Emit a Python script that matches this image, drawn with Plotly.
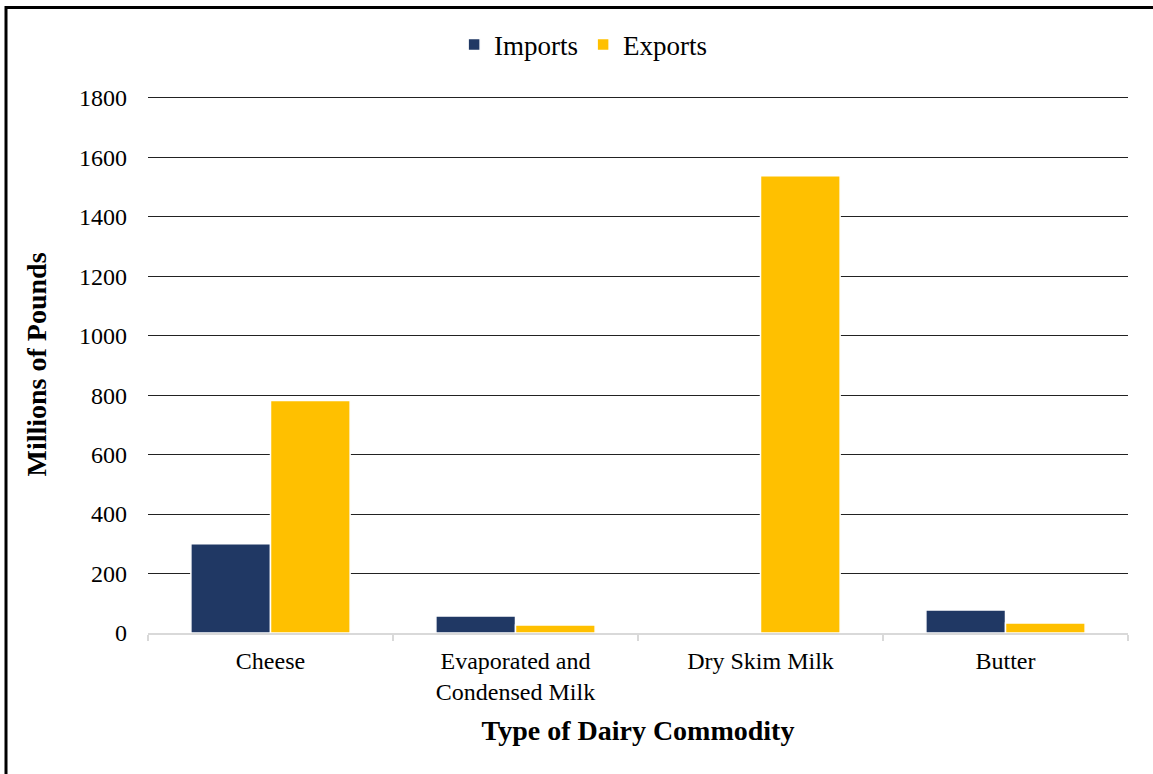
import plotly.graph_objects as go

categories = ["Cheese", "Evaporated and<br>Condensed Milk", "Dry Skim Milk", "Butter"]
imports = [300, 57, 0, 77]
exports = [782, 27, 1538, 34]
y_ticks = [0, 200, 400, 600, 800, 1000, 1200, 1400, 1600, 1800]

FONT = "Liberation Serif"

fig = go.Figure()
fig.add_trace(go.Bar(name="Imports", x=categories, y=imports,
                     marker=dict(color="#203864", line=dict(color="white", width=1.5))))
fig.add_trace(go.Bar(name="Exports", x=categories, y=exports,
                     marker=dict(color="#FFC000", line=dict(color="white", width=1.5))))

fig.update_layout(
    width=1153, height=774,
    margin=dict(l=148, r=25, t=96, b=141, autoexpand=False),
    paper_bgcolor="white", plot_bgcolor="white",
    barmode="group", bargap=0.35, bargroupgap=0.0,
    font=dict(family=FONT, color="black", size=24),
    legend=dict(orientation="h", x=0.444, xanchor="center", y=1.095, yanchor="middle",
                font=dict(family=FONT, size=27, color="black"), itemwidth=30,
                traceorder="normal"),
    showlegend=True,
)
fig.update_xaxes(
    type="category",
    showline=True, linecolor="#d9d9d9", linewidth=2,
    ticks="outside", tickson="boundaries", ticklen=6, tickcolor="#d9d9d9", tickwidth=2,
    ticklabelstandoff=5,
    tickfont=dict(family=FONT, size=24, color="black"),
    title=dict(text="<b>Type of Dairy Commodity</b>", font=dict(family=FONT, size=28, color="black"), standoff=16),
    showgrid=False, automargin=False,
)
fig.update_yaxes(
    range=[0, 1806], tickvals=y_ticks, ticktext=[str(v) for v in y_ticks],
    showgrid=True, gridcolor="#222222", gridwidth=1,
    zeroline=False, showline=False,
    ticks="", ticklabelstandoff=20,
    tickfont=dict(family=FONT, size=24, color="black"),
    title=dict(text="<b>Millions of Pounds</b>", font=dict(family=FONT, size=28, color="black"), standoff=24),
    automargin=False,
)
fig.add_shape(type="rect", xref="paper", yref="paper",
              x0=(6 - 148) / 980, x1=(1165 - 148) / 980,
              y0=(633 - 790) / 537, y1=(633 - 7.5) / 537,
              line=dict(color="black", width=3), fillcolor="rgba(0,0,0,0)", layer="above")

fig.write_html("out.html")
